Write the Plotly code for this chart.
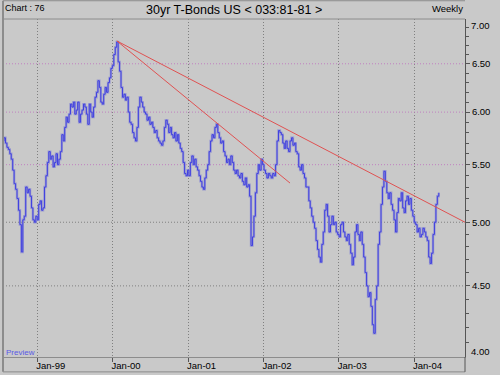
import math
import pandas as pd
import plotly.graph_objects as go

# ---------------- data ----------------
start_date = "1998-07-17"   # first weekly bar (Fridays)

closes_1998 = [5.72, 5.75, 5.70, 5.66, 5.64, 5.60, 5.55, 5.45, 5.33, 5.28,
               5.20, 5.10, 4.98, 4.76, 5.02, 5.05, 5.30, 5.25, 5.28, 5.22,
               5.12, 5.02, 5.00, 5.05]
closes_1999 = [5.02, 5.15, 5.18, 5.10, 5.12, 5.30, 5.40, 5.52, 5.62, 5.55,
               5.58, 5.48, 5.52, 5.60, 5.50, 5.55, 5.62, 5.78, 5.72, 5.85,
               5.95, 5.90, 5.98, 6.08, 6.05, 6.10, 5.98, 6.02, 6.10, 5.90,
               5.98, 6.02, 6.08, 6.05, 5.98, 5.88, 6.08, 6.00, 5.95, 6.05,
               6.15, 6.20, 6.32, 6.25, 6.10, 6.08, 6.18, 6.25, 6.20, 6.30,
               6.35, 6.45]
closes_2000 = [6.48, 6.60, 6.68, 6.74, 6.52, 6.42, 6.25, 6.15, 6.18, 6.12,
               6.15, 6.00, 5.90, 5.88, 5.80, 5.75, 5.72, 5.85, 6.05, 6.15,
               6.10, 6.05, 6.00, 5.98, 5.92, 5.95, 5.88, 5.90, 5.85, 5.80,
               5.82, 5.75, 5.72, 5.70, 5.68, 5.72, 5.85, 5.92, 5.88, 5.80,
               5.85, 5.78, 5.75, 5.80, 5.72, 5.78, 5.70, 5.65, 5.62, 5.52,
               5.42, 5.40]
closes_2001 = [5.45, 5.40, 5.52, 5.58, 5.50, 5.55, 5.48, 5.45, 5.40, 5.35,
               5.30, 5.28, 5.38, 5.45, 5.50, 5.62, 5.72, 5.78, 5.75, 5.85,
               5.88, 5.80, 5.75, 5.70, 5.72, 5.62, 5.58, 5.52, 5.55, 5.50,
               5.58, 5.52, 5.45, 5.42, 5.45, 5.40, 5.38, 5.42, 5.35, 5.32,
               5.38, 5.30, 5.32, 5.22, 4.81, 4.88, 5.05, 5.25, 5.42, 5.50,
               5.45, 5.55, 5.50]
closes_2002 = [5.45, 5.42, 5.38, 5.42, 5.40, 5.38, 5.42, 5.40, 5.50, 5.72,
               5.82, 5.80, 5.78, 5.70, 5.65, 5.72, 5.65, 5.62, 5.72, 5.75,
               5.68, 5.70, 5.62, 5.60, 5.48, 5.45, 5.50, 5.42, 5.38, 5.30,
               5.30, 5.18, 5.12, 5.05, 5.00, 4.95, 4.85, 4.78, 4.72, 4.68,
               4.82, 4.92, 5.10, 5.15, 5.05, 4.92, 4.98, 5.05, 4.98, 5.00,
               4.92, 4.90]
closes_2003 = [4.88, 4.98, 5.00, 4.92, 4.88, 4.85, 4.90, 4.82, 4.75, 4.66,
               4.72, 4.92, 4.98, 4.90, 4.85, 4.92, 4.82, 4.72, 4.60, 4.50,
               4.42, 4.45, 4.35, 4.22, 4.16, 4.40, 4.50, 4.82, 4.92, 5.15,
               5.30, 5.44, 5.35, 5.25, 5.20, 5.25, 5.15, 5.10, 5.02, 4.92,
               5.08, 5.20, 5.18, 5.25, 5.12, 5.08, 5.18, 5.22, 5.15, 5.20,
               5.10, 5.05]
closes_2004 = [5.00, 4.98, 4.92, 4.95, 4.88, 4.90, 4.95, 4.92, 4.88, 4.85,
               4.72, 4.67, 4.75, 4.90, 5.00, 5.15, 5.22, 5.25]

closes = (closes_1998 + closes_1999 + closes_2000 + closes_2001 +
          closes_2002 + closes_2003 + closes_2004)
dates = pd.date_range(start_date, periods=len(closes), freq="W-FRI")

# trend lines (drawn from the Jan-2000 peak)
trend_long_dates = ["2000-01-22", "2004-09-04"]
trend_long_values = [6.75, 5.00]
trend_short_dates = ["2000-01-22", "2002-05-10"]
trend_short_values = [6.75, 5.335]

year_ticks = ["1999-01-01", "2000-01-01", "2001-01-01", "2002-01-01",
              "2003-01-01", "2004-01-01"]
year_labels = ["Jan-99", "Jan-00", "Jan-01", "Jan-02", "Jan-03", "Jan-04"]

y_ticks = [6.5, 6.0, 5.5, 5.0, 4.5]
y_tick_labels = ["6.50", "6.00", "5.50", "5.00", "4.50"]
y_edge_labels = ["7.00", "4.00"]
y_minor = [4.1, 4.2, 4.3, 4.4, 4.6, 4.7, 4.8, 4.9, 5.1, 5.2, 5.3, 5.4,
           5.6, 5.7, 5.8, 5.9, 6.1, 6.2, 6.3, 6.4, 6.6, 6.7, 6.8, 6.9]
grid_pink = [6.5, 6.0, 5.5]
grid_gray = [5.0, 4.5]

x_range = ["1998-07-19", "2004-09-04"]
y_range = [4.0, 7.0]

# ---------------- figure ----------------
BG = "#c9c9c9"
FONT = "Liberation Sans, Arial, sans-serif"
DOT = "1px,2px"

fig = go.Figure()

# horizontal grid lines
for lvl in grid_pink:
    fig.add_trace(go.Scatter(x=x_range, y=[lvl, lvl], mode="lines",
                             line=dict(color="#c080c0", width=1, dash=DOT),
                             hoverinfo="skip", showlegend=False))
for lvl in grid_gray:
    fig.add_trace(go.Scatter(x=x_range, y=[lvl, lvl], mode="lines",
                             line=dict(color="#808080", width=1, dash=DOT),
                             hoverinfo="skip", showlegend=False))

# price range shading + close line
fig.add_trace(go.Scatter(x=dates, y=closes, mode="lines",
                         line=dict(color="rgba(140,140,210,0.75)", width=2.4,
                                   shape="hv"),
                         hoverinfo="skip", showlegend=False))
fig.add_trace(go.Scatter(x=dates, y=closes, mode="lines",
                         line=dict(color="#4040e0", width=1, shape="hv"),
                         showlegend=False))

# trend lines
fig.add_trace(go.Scatter(x=trend_long_dates, y=trend_long_values, mode="lines",
                         line=dict(color="#e05252", width=1),
                         showlegend=False))
fig.add_trace(go.Scatter(x=trend_short_dates, y=trend_short_values, mode="lines",
                         line=dict(color="#e05252", width=1),
                         showlegend=False))

fig.update_layout(
    width=500, height=375,
    margin=dict(l=3, r=35, t=18.5, b=18),
    paper_bgcolor=BG, plot_bgcolor=BG,
    font=dict(family=FONT, size=10, color="#000000"),
    showlegend=False,
)

fig.update_xaxes(
    type="date", range=x_range,
    tickvals=year_ticks, ticktext=year_labels,
    ticks="outside", ticklen=4, tickcolor="#555555",
    ticklabelposition="outside right", ticklabelshift=-2,
    tickfont=dict(size=9.5, family=FONT),
    showline=True, linecolor="#8c8c8c", linewidth=1,
    showgrid=True, gridcolor="#808080", griddash=DOT, gridwidth=1,
    zeroline=False,
)

fig.update_yaxes(
    type="log", side="right",
    range=[math.log10(y_range[0]), math.log10(y_range[1])],
    tickvals=y_ticks, ticktext=y_tick_labels,
    ticks="outside", ticklen=4, tickcolor="#555555",
    tickfont=dict(size=9.5, family=FONT),
    showline=True, linecolor="#555555", linewidth=1,
    showgrid=False, zeroline=False,
    minor=dict(tickvals=y_minor, ticks="outside", ticklen=3,
               tickcolor="#555555", showgrid=False),
)

# frame lines
frame = dict(color="#8c8c8c", width=1)
fig.add_shape(type="line", xref="paper", yref="paper", x0=0, x1=1, y0=1, y1=1,
              line=frame)
fig.add_shape(type="line", xref="paper", yref="paper", x0=0, x1=1.0,
              y0=-0.044, y1=-0.044, line=frame)
fig.add_shape(type="line", xref="paper", yref="paper", x0=0, x1=0,
              y0=-0.044, y1=1.054, line=dict(color="#8c8c8c", width=2))
fig.add_shape(type="line", xref="paper", yref="paper", x0=1, x1=1,
              y0=-0.044, y1=0, line=dict(color="#555555", width=1))
fig.add_shape(type="line", xref="paper", yref="paper", x0=0, x1=1,
              y0=1.054, y1=1.054, line=frame)

# header texts
fig.add_annotation(text="30yr T-Bonds US < 033:81-81 >", xref="paper",
                   yref="paper", x=0.5, y=1.027, showarrow=False,
                   xanchor="center", yanchor="middle",
                   font=dict(size=12.5, family=FONT))
fig.add_annotation(text="Chart : 76", xref="paper", yref="paper", x=0.0,
                   y=1.032, showarrow=False, xanchor="left", yanchor="middle",
                   font=dict(size=9, family=FONT))
fig.add_annotation(text="Weekly", xref="paper", yref="paper", x=1.0,
                   y=1.032, showarrow=False, xanchor="right", yanchor="middle",
                   font=dict(size=9.5, family=FONT))
fig.add_annotation(text="Preview", xref="paper", yref="paper", x=0.003,
                   y=0.012, showarrow=False, xanchor="left", yanchor="middle",
                   font=dict(size=8, family=FONT, color="#5a5ae6"))

# edge labels of the value axis (shifted inside like the original)
fig.add_annotation(text=y_edge_labels[0], xref="paper", yref="paper",
                   x=1.0, y=0.981, showarrow=False, xanchor="left",
                   yanchor="middle", xshift=4,
                   font=dict(size=9.5, family=FONT))
fig.add_annotation(text=y_edge_labels[1], xref="paper", yref="paper",
                   x=1.0, y=0.015, showarrow=False, xanchor="left",
                   yanchor="middle", xshift=4,
                   font=dict(size=9.5, family=FONT))

fig.write_html(
    "out.html",
    config={"displayModeBar": False},
    post_script="document.body.style.margin='0';"
                "document.body.style.background='" + BG + "';",
)
